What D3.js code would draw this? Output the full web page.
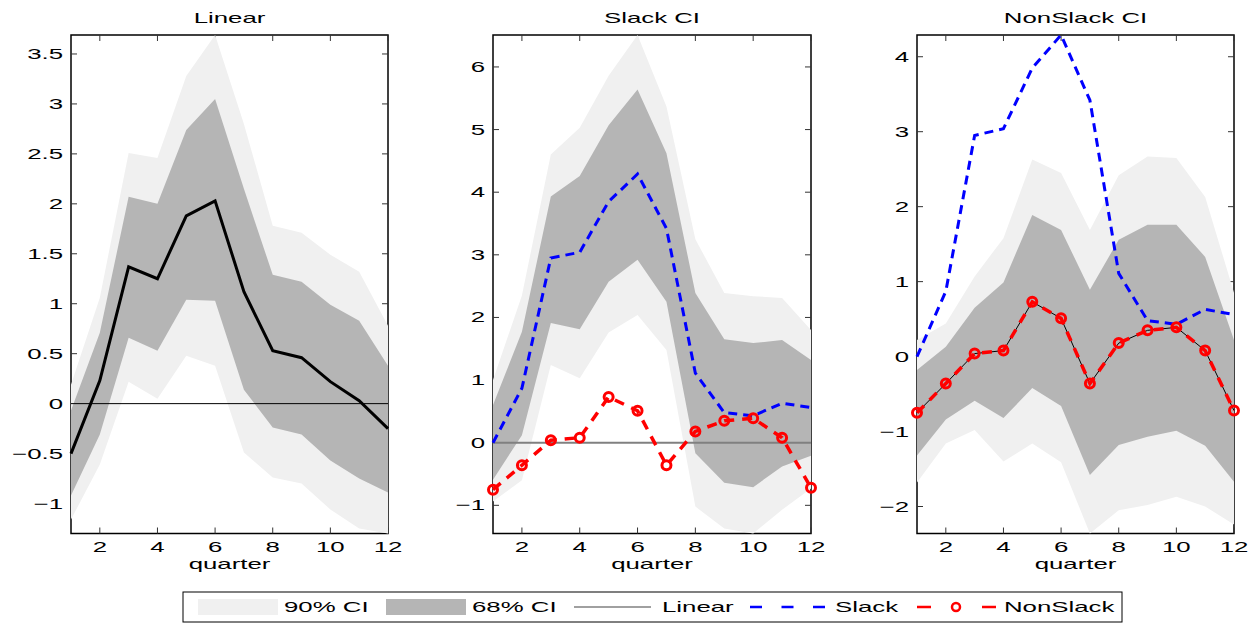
<!DOCTYPE html>
<html>
<head>
<meta charset="utf-8">
<script src="https://cdn.jsdelivr.net/npm/d3@7"></script>
<style>
  body { margin: 0; background: #fff; }
  text { font-family: "Liberation Sans", Arial, Helvetica, sans-serif; font-size: 15px; fill: #000; }
</style>
</head>
<body>
<div id="chart"></div>
<script>
// Quarters after the shock
var quarters = [1, 2, 3, 4, 5, 6, 7, 8, 9, 10, 11, 12];

// Linear model response and bands
var linearIrf = [-0.5, 0.23, 1.37, 1.25, 1.88, 2.03, 1.12, 0.53, 0.46, 0.22, 0.03, -0.25];
var linUp90 = [0.19, 1.06, 2.51, 2.46, 3.28, 3.69, 2.8, 1.78, 1.71, 1.49, 1.32, 0.78];
var linUp68 = [-0.07, 0.71, 2.07, 2.0, 2.74, 3.05, 2.15, 1.29, 1.22, 0.99, 0.83, 0.38];
var linLo68 = [-0.92, -0.31, 0.66, 0.53, 1.04, 1.03, 0.14, -0.24, -0.31, -0.57, -0.75, -0.89];
var linLo90 = [-1.16, -0.61, 0.22, 0.05, 0.48, 0.38, -0.49, -0.74, -0.8, -1.06, -1.25, -1.3];

// State dependent responses
var slackIrf = [0, 0.87, 2.95, 3.04, 3.85, 4.29, 3.42, 1.11, 0.48, 0.43, 0.63, 0.56];
var nonSlackIrf = [-0.75, -0.36, 0.04, 0.08, 0.73, 0.51, -0.36, 0.18, 0.35, 0.39, 0.08, -0.72];

// Slack bands
var slkUp90 = [1.0, 2.35, 4.6, 5.03, 5.86, 6.51, 5.37, 3.25, 2.39, 2.34, 2.31, 1.8];
var slkUp68 = [0.6, 1.77, 3.93, 4.26, 5.07, 5.64, 4.62, 2.39, 1.65, 1.59, 1.64, 1.32];
var slkLo68 = [-0.59, 0.12, 1.91, 1.81, 2.57, 2.92, 2.25, -0.17, -0.64, -0.71, -0.38, -0.21];
var slkLo90 = [-0.94, -0.6, 1.24, 1.03, 1.76, 2.04, 1.48, -1.02, -1.37, -1.45, -1.07, -0.73];

// NonSlack bands
var nsUp90 = [0.22, 0.44, 1.07, 1.58, 2.63, 2.45, 1.69, 2.42, 2.67, 2.65, 2.13, 0.85];
var nsUp68 = [-0.18, 0.13, 0.65, 0.99, 1.89, 1.69, 0.89, 1.56, 1.76, 1.76, 1.33, 0.22];
var nsLo68 = [-1.32, -0.84, -0.59, -0.82, -0.42, -0.66, -1.58, -1.18, -1.07, -0.99, -1.19, -1.67];
var nsLo90 = [-1.68, -1.16, -0.98, -1.4, -1.16, -1.41, -2.36, -2.05, -1.98, -1.87, -2.0, -2.24];

var xTicks = [2, 4, 6, 8, 10, 12];
var legendLabels = ["90% CI", "68% CI", "Linear", "Slack", "NonSlack"];

var svgWidth = 1257;
var svgHeight = 624;
var sx = 1.72; // the original figure is stretched sideways

var light = "#f0f0f0";
var dark = "#b5b5b5";

var svg = d3.select("#chart")
  .append("svg")
  .attr("width", svgWidth)
  .attr("height", svgHeight);

// text stretched like the picture
function wideText(g, x, y, str, anchor) {
  return g.append("text")
    .attr("transform", `translate(${x},${y}) scale(${sx},1)`)
    .attr("text-anchor", anchor)
    .text(str);
}

function fmt(d) {
  return (d < 0 ? "\u2212" : "") + Math.abs(d);
}

var panels = [
  { title: "Linear", left: 71, right: 388, yDomain: [-1.3, 3.69], yTicks: [-1, -0.5, 0, 0.5, 1, 1.5, 2, 2.5, 3, 3.5],
    up90: linUp90, up68: linUp68, lo68: linLo68, lo90: linLo90, zero: "#000", zeroW: 1 },
  { title: "Slack CI", left: 493, right: 811, yDomain: [-1.45, 6.51], yTicks: [-1, 0, 1, 2, 3, 4, 5, 6],
    up90: slkUp90, up68: slkUp68, lo68: slkLo68, lo90: slkLo90, zero: "#808080", zeroW: 2 },
  { title: "NonSlack CI", left: 917, right: 1234, yDomain: [-2.36, 4.29], yTicks: [-2, -1, 0, 1, 2, 3, 4],
    up90: nsUp90, up68: nsUp68, lo68: nsLo68, lo90: nsLo90, zero: null }
];

var plotTop = 35, plotBottom = 533.5;

panels.forEach(function(p, i) {
  var g = svg.append("g");
  var x = d3.scaleLinear().domain([1, 12]).range([p.left, p.right]);
  var y = d3.scaleLinear().domain(p.yDomain).range([plotBottom, plotTop]);

  // frame and ticks first: the bands cover them like in the original
  g.append("rect")
    .attr("x", p.left).attr("y", plotTop)
    .attr("width", p.right - p.left).attr("height", plotBottom - plotTop)
    .attr("fill", "none").attr("stroke", "#000").attr("stroke-width", 1.5);

  p.yTicks.forEach(function(t) {
    g.append("line").attr("x1", p.left).attr("x2", p.left + 6).attr("y1", y(t)).attr("y2", y(t))
      .attr("stroke", "#333");
    g.append("line").attr("x1", p.right).attr("x2", p.right - 6).attr("y1", y(t)).attr("y2", y(t))
      .attr("stroke", "#333");
    wideText(g, p.left - 8, y(t) + 5, fmt(t), "end");
  });
  xTicks.forEach(function(t) {
    g.append("line").attr("x1", x(t)).attr("x2", x(t)).attr("y1", plotBottom).attr("y2", plotBottom - 6)
      .attr("stroke", "#333");
    g.append("line").attr("x1", x(t)).attr("x2", x(t)).attr("y1", plotTop).attr("y2", plotTop + 6)
      .attr("stroke", "#333");
    wideText(g, x(t), plotBottom + 18, t, "middle");
  });

  wideText(g, (p.left + p.right) / 2, 23, p.title, "middle");
  wideText(g, (p.left + p.right) / 2, 569, "quarter", "middle");

  // confidence bands
  var band = function(lo, hi) {
    return d3.area()
      .x(function(d, k) { return x(quarters[k]); })
      .y0(function(d, k) { return y(lo[k]); })
      .y1(function(d, k) { return y(hi[k]); })(quarters);
  };
  g.append("path").attr("d", band(p.lo90, p.up90)).attr("fill", light);
  g.append("path").attr("d", band(p.lo68, p.up68)).attr("fill", dark);

  if (p.zero) {
    g.append("line").attr("x1", p.left).attr("x2", p.right).attr("y1", y(0)).attr("y2", y(0))
      .attr("stroke", p.zero).attr("stroke-width", p.zeroW);
  }

  var line = function(vals) {
    return d3.line()
      .x(function(d, k) { return x(quarters[k]); })
      .y(function(d, k) { return y(vals[k]); })(quarters);
  };

  if (i == 0) {
    g.append("path").attr("d", line(linearIrf)).attr("fill", "none")
      .attr("stroke", "#000").attr("stroke-width", 3);
  } else {
    g.append("path").attr("d", line(slackIrf)).attr("fill", "none")
      .attr("stroke", "#0000ff").attr("stroke-width", 3).attr("stroke-dasharray", "9,6");
    if (i == 2) {
      g.append("path").attr("d", line(nonSlackIrf)).attr("fill", "none")
        .attr("stroke", "#000").attr("stroke-width", 1);
    }
    g.append("path").attr("d", line(nonSlackIrf)).attr("fill", "none")
      .attr("stroke", "#ff0000").attr("stroke-width", 3.5).attr("stroke-dasharray", "10,8");
    g.selectAll("circle.ns")
      .data(quarters)
      .enter().append("circle")
      .attr("cx", function(d) { return x(d); })
      .attr("cy", function(d, k) { return y(nonSlackIrf[k]); })
      .attr("r", 4.5)
      .attr("fill", "none")
      .attr("stroke", "#ff0000")
      .attr("stroke-width", 3);
  }
});

// Legend
var lg = svg.append("g");
lg.append("rect").attr("x", 183).attr("y", 592).attr("width", 939).attr("height", 30)
  .attr("fill", "#fff").attr("stroke", "#000").attr("stroke-width", 1);
var ly = 607;
lg.append("rect").attr("x", 198).attr("y", ly - 8).attr("width", 80).attr("height", 16).attr("fill", light);
wideText(lg, 284, ly + 5, legendLabels[0], "start");
lg.append("rect").attr("x", 386).attr("y", ly - 8).attr("width", 80).attr("height", 16).attr("fill", dark);
wideText(lg, 472, ly + 5, legendLabels[1], "start");
lg.append("line").attr("x1", 574).attr("x2", 651).attr("y1", ly).attr("y2", ly)
  .attr("stroke", "#808080").attr("stroke-width", 1.5);
wideText(lg, 662, ly + 5, legendLabels[2], "start");
lg.append("line").attr("x1", 750).attr("x2", 825).attr("y1", ly).attr("y2", ly)
  .attr("stroke", "#0000ff").attr("stroke-width", 2.5).attr("stroke-dasharray", "12,19.5");
wideText(lg, 835, ly + 5, legendLabels[3], "start");
lg.append("line").attr("x1", 917).attr("x2", 996).attr("y1", ly).attr("y2", ly)
  .attr("stroke", "#ff0000").attr("stroke-width", 2.5).attr("stroke-dasharray", "14,51,14");
lg.append("circle").attr("cx", 956).attr("cy", ly).attr("r", 4)
  .attr("fill", "none").attr("stroke", "#ff0000").attr("stroke-width", 2.5);
wideText(lg, 1004, ly + 5, legendLabels[4], "start");
</script>
</body>
</html>
